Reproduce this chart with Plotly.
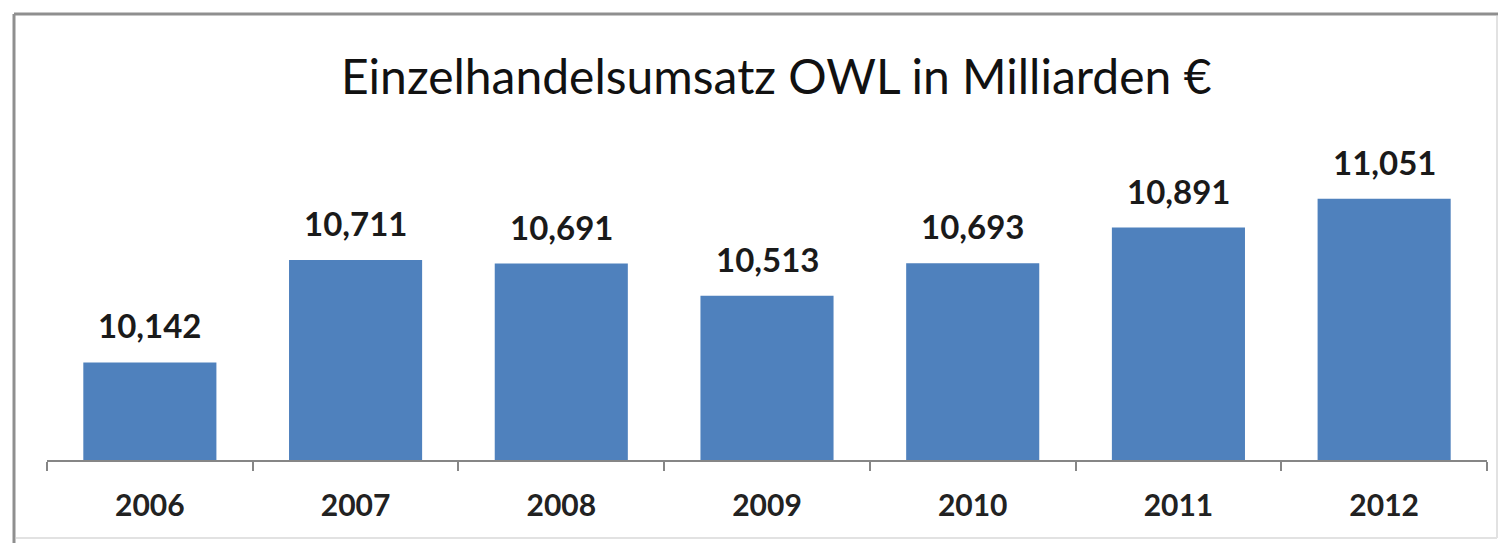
import plotly.graph_objects as go

years = ["2006", "2007", "2008", "2009", "2010", "2011", "2012"]
values = [10.142, 10.711, 10.691, 10.513, 10.693, 10.891, 11.051]
value_labels = ["10,142", "10,711", "10,691", "10,513", "10,693", "10,891", "11,051"]
title_text = "Einzelhandelsumsatz OWL in Milliarden €"

W, H = 1506, 543
OFF = 8  # page offset of the figure inside the browser window
L, R, T, B = 47 - OFF, 19 + OFF, 172 - OFF, 83 + OFF
pw, ph = W - L - R, H - T - B

def px(x):
    # x given in window pixels
    return (x - OFF - L) / pw

def py(y):
    return (H - B - (y - OFF)) / ph

fig = go.Figure(
    go.Bar(
        x=years,
        y=values,
        marker=dict(color="#4F81BD", line=dict(width=0)),
        hoverinfo="skip",
    )
)

annotations = [
    dict(
        x=i, y=v, xref="x", yref="y", text=lbl, showarrow=False,
        yanchor="middle", yshift=37,
        font=dict(family="Lato", size=33, color="#1a1a1a", weight="bold"),
    )
    for i, (v, lbl) in enumerate(zip(values, value_labels))
]
annotations.append(
    dict(
        x=px(776), y=py(75), xref="paper", yref="paper",
        text=title_text, showarrow=False,
        xanchor="center", yanchor="middle",
        font=dict(family="Lato", size=48, color="#111111"),
    )
)

shapes = [
    dict(type="line", xref="paper", yref="paper", x0=px(14), x1=px(1520), y0=py(14), y1=py(14),
         line=dict(color="#8f8f8f", width=3)),
    dict(type="line", xref="paper", yref="paper", x0=px(14), x1=px(14), y0=py(14), y1=py(560),
         line=dict(color="#8f8f8f", width=3)),
    dict(type="line", xref="paper", yref="paper", x0=px(1497), x1=px(1497), y0=py(16), y1=py(538),
         line=dict(color="#e2e2e2", width=2)),
    dict(type="line", xref="paper", yref="paper", x0=px(16), x1=px(1497), y0=py(538), y1=py(538),
         line=dict(color="#e2e2e2", width=2)),
]

fig.update_layout(
    width=W, height=H,
    margin=dict(l=L, r=R, t=T, b=B, pad=0),
    paper_bgcolor="white", plot_bgcolor="white",
    bargap=0.353,
    showlegend=False,
    annotations=annotations,
    shapes=shapes,
    xaxis=dict(
        type="category",
        range=[-0.5, len(years) - 0.5],
        showline=True, linecolor="#868686", linewidth=2,
        ticks="outside", tickson="boundaries", ticklen=9, tickwidth=2, tickcolor="#868686",
        tickfont=dict(family="Lato", size=30, color="#222222", weight="bold"),
        tickangle=0,
        showgrid=False, zeroline=False,
        ticklabelstandoff=18,
        fixedrange=True,
    ),
    yaxis=dict(
        range=[9.6, 11.2],
        visible=False, showgrid=False, zeroline=False, fixedrange=True,
    ),
)

fig.write_html("out.html", config={"displayModeBar": False})
